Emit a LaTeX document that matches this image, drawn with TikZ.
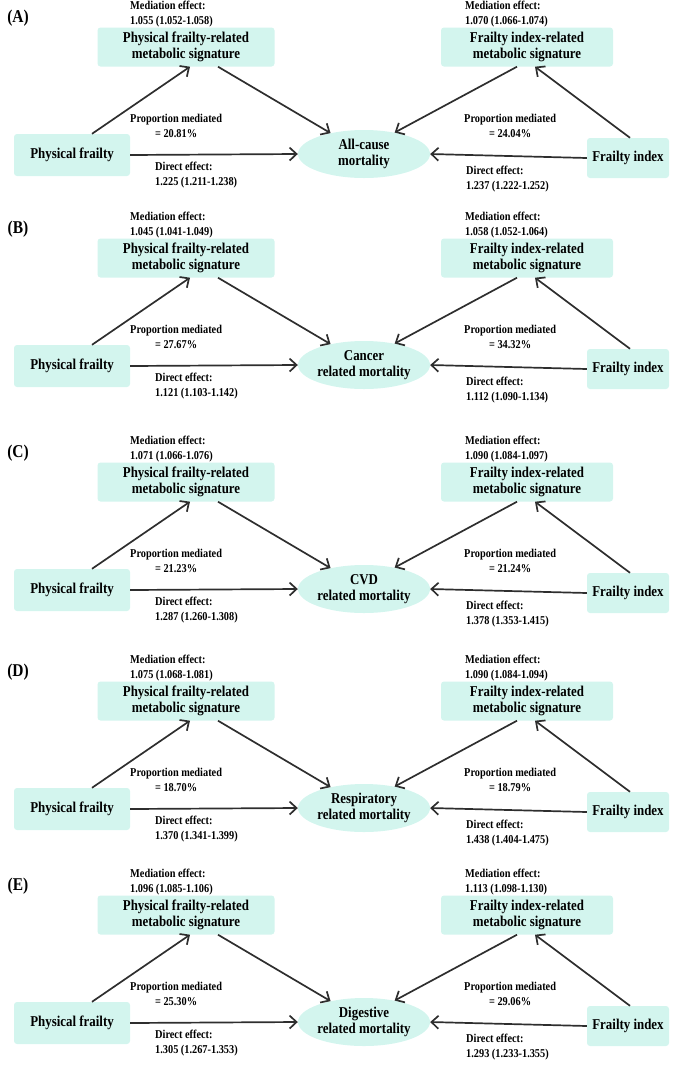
\documentclass[tikz,border=0pt]{standalone}
\usepackage{fontspec}
\setmainfont{Liberation Serif}[FakeStretch=0.86]
\usetikzlibrary{arrows.meta,shapes.geometric}
\definecolor{boxfill}{HTML}{D3F5EE}
\definecolor{arrowc}{HTML}{2E2E2E}
\begin{document}
\begin{tikzpicture}[x=1pt,y=-1pt,font=\bfseries,
		box/.style={rectangle,rounded corners=3pt,fill=boxfill,align=center,inner sep=0pt,font=\fontsize{15}{16.5}\bfseries},
		outc/.style={ellipse,fill=boxfill,align=center,inner sep=0pt,minimum width=132pt,minimum height=48pt,font=\fontsize{15}{16.5}\bfseries},
		lbl/.style={font=\fontsize{12}{13.5}\bfseries,inner sep=0pt},
		arr/.style={-{Straight Barb[length=7pt,width=13pt]},line width=1.7pt,arrowc}]
	\useasboundingbox (0,0) rectangle (685,1066);
	% one panel per outcome
	\foreach \yo/\lab/\mL/\mR/\out/\pL/\pR/\dL/\dR [count=\p] in {
		154/A/1.055 (1.052-1.058)/1.070 (1.066-1.074)/{All-cause\\mortality}/20.81/24.04/1.225 (1.211-1.238)/1.237 (1.222-1.252),
		365/B/1.045 (1.041-1.049)/1.058 (1.052-1.064)/{Cancer\\related mortality}/27.67/34.32/1.121 (1.103-1.142)/1.112 (1.090-1.134),
		589/C/1.071 (1.066-1.076)/1.090 (1.084-1.097)/{CVD\\related mortality}/21.23/21.24/1.287 (1.260-1.308)/1.378 (1.353-1.415),
		808/D/1.075 (1.068-1.081)/1.090 (1.084-1.094)/{Respiratory\\related mortality}/18.70/18.79/1.370 (1.341-1.399)/1.438 (1.404-1.475),
		1022/E/1.096 (1.085-1.106)/1.113 (1.098-1.130)/{Digestive\\related mortality}/25.30/29.06/1.305 (1.267-1.353)/1.293 (1.233-1.355)} {
		\begin{scope}[yshift=-\yo pt]
			\node[font=\fontsize{18}{20}\bfseries] (lab\p) at (18,-136) {(\lab)};
			\node[box,minimum width=177pt,minimum height=39pt] (lb\p) at (186,-107) {Physical frailty-related\\metabolic signature};
			\node[box,minimum width=172pt,minimum height=39pt] (rb\p) at (527,-107) {Frailty index-related\\metabolic signature};
			\node[box,minimum width=116pt,minimum height=42pt] (pf\p) at (72,1) {Physical frailty};
			\node[box,minimum width=82pt,minimum height=40pt] (fi\p) at (628,4) {Frailty index};
			\node[outc] (mo\p) at (364,0) {\out};
			% labels
			\node[lbl,anchor=west,align=left] (ml\p) at (130,-140) {Mediation effect:\\[1pt]\mL};
			\node[lbl,anchor=west,align=left] (mr\p) at (465,-140) {Mediation effect:\\[1pt]\mR};
			\node[lbl,anchor=west,align=center] (pl\p) at (130,-28) {Proportion mediated\\[1pt]= \pL\%};
			\node[lbl,anchor=west,align=center] (pr\p) at (464,-28) {Proportion mediated\\[1pt]= \pR\%};
			\node[lbl,anchor=west,align=left] (dl\p) at (155,21) {Direct effect:\\[1pt]\dL};
			\node[lbl,anchor=west,align=left] (dr\p) at (466,25) {Direct effect:\\[1pt]\dR};
			% paths
			\draw[arr] ([xshift=20pt]pf\p.north) -- ([xshift=4pt]lb\p.south);
			\draw[arr] ([xshift=32pt]lb\p.south) -- (mo\p.148);
			\draw[arr] (pf\p.east) -- (mo\p.west);
			\draw[arr] ([xshift=-10pt]rb\p.south) -- (mo\p.35);
			\draw[arr] ([xshift=2pt]fi\p.north) -- ([xshift=8pt]rb\p.south);
			\draw[arr] (fi\p.west) -- (mo\p.east);
		\end{scope}
	}
\end{tikzpicture}
\end{document}
